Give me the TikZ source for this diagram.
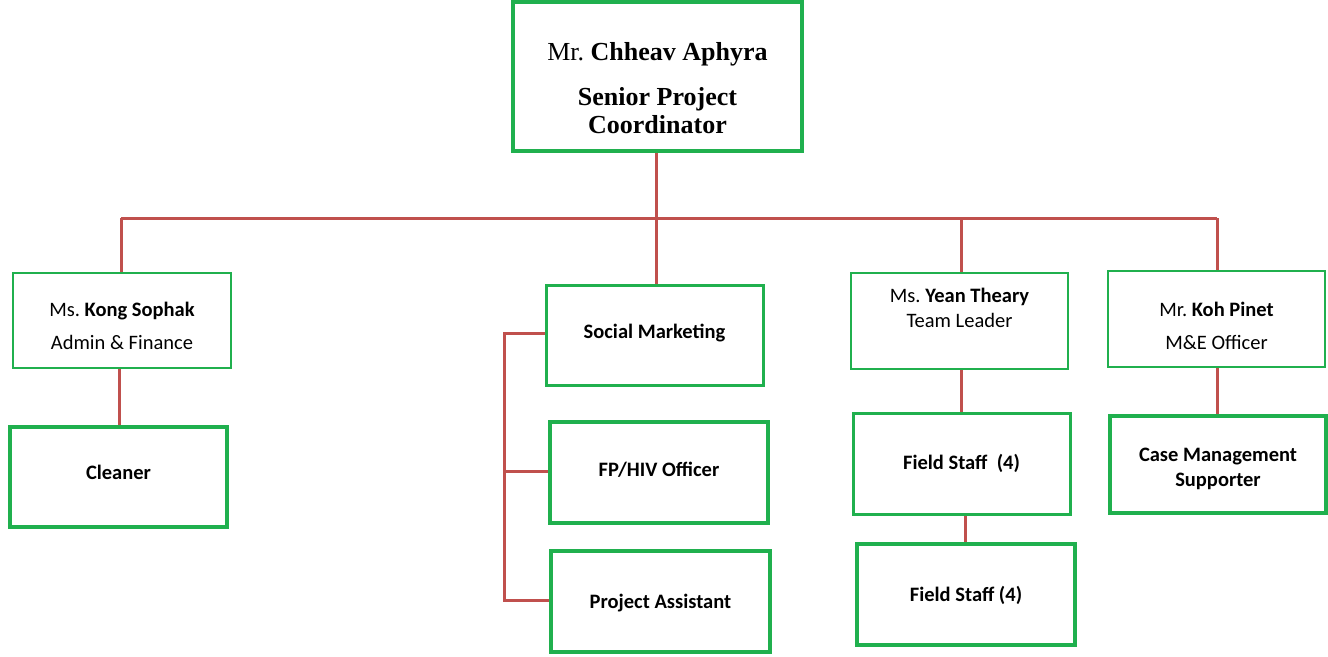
\documentclass[tikz,border=0pt]{standalone}
\usepackage{fontspec}
\setmainfont{Carlito}
\newfontfamily\timesf{Liberation Serif}
\definecolor{boxgreen}{RGB}{32,176,78}
\definecolor{linered}{RGB}{192,80,77}
\frenchspacing
\begin{document}
\begin{tikzpicture}[x=1pt,y=-1pt,
  txt/.style={inner sep=0pt,align=center,font=\fontsize{20.5}{25}\selectfont},
  thinbox/.style={draw=boxgreen,line width=2.8pt,fill=white,inner sep=0pt},
  thickbox/.style={thinbox,line width=4.8pt},
  conn/.style={draw=linered,line width=3pt}]
\useasboundingbox (0,0) rectangle (1328,656);
% boxes
\node[thickbox,minimum width=289,minimum height=149] (top) at (657.5,76.5) {};
\node[thinbox,minimum width=218,minimum height=95] (kong) at (122,320.5) {};
\node[thickbox,minimum width=217,minimum height=100] (cleaner) at (118.5,477) {};
\node[thinbox,line width=3pt,minimum width=217,minimum height=100] (social) at (654.5,335) {};
\node[thickbox,minimum width=218,minimum height=101] (fphiv) at (659,472.5) {};
\node[thickbox,minimum width=219,minimum height=101] (pa) at (660.5,601.5) {};
\node[thinbox,minimum width=217,minimum height=96] (yean) at (959.5,321) {};
\node[thinbox,line width=3pt,minimum width=217,minimum height=101] (fs1) at (961.5,463.5) {};
\node[thickbox,minimum width=218,minimum height=101] (fs2) at (966,594.5) {};
\node[thinbox,minimum width=217,minimum height=96] (koh) at (1216.5,319) {};
\node[thickbox,line width=4pt,minimum width=216,minimum height=97] (case) at (1218,464) {};
% texts
\node[txt,font=\timesf\fontsize{26}{28}\selectfont] (toptext) at (657.5,88)
  {Mr. \textbf{Chheav Aphyra}\\[17pt]\textbf{Senior Project}\\\textbf{Coordinator}};
\node[txt] (kongtext) at (122,326) {Ms. \textbf{Kong Sophak}\\[8pt]Admin \& Finance};
\node[txt] (cleanertext) at (118.5,472) {\textbf{Cleaner}};
\node[txt] (socialtext) at (654.5,333) {\textbf{Social Marketing}};
\node[txt] (fphivtext) at (659,470) {\textbf{FP/HIV Officer}};
\node[txt] (patext) at (660.5,603) {\textbf{Project Assistant}};
\node[txt,anchor=north] (yeantext) at (959.5,288) {Ms. \textbf{Yean Theary}\\Team Leader};
\node[txt] (fs1text) at (961.5,463) {\textbf{Field Staff\ \ (4)}};
\node[txt] (fs2text) at (966,595) {\textbf{Field Staff (4)}};
\node[txt] (kohtext) at (1216.5,326) {Mr. \textbf{Koh Pinet}\\[8pt]M\&E Officer};
\node[txt] (casetext) at (1218,469) {\textbf{Case Management}\\\textbf{Supporter}};
% coordinates
\coordinate (bus) at (656,218);
\coordinate (busL) at (121,218);
\coordinate (busR) at (1217,218);
\coordinate (busY) at (961,218);
\coordinate (xK) at (119,0);
\coordinate (xY) at (961,0);
\coordinate (xF) at (965,0);
\coordinate (xM) at (1217,0);
\coordinate (b1) at (504,333);
\coordinate (b2) at (504,471);
\coordinate (b3) at (504,600);
% connectors
\draw[conn] (top.south -| bus) -- (bus);
\draw[conn] (busL) -- (busR);
\draw[conn] (busL) -- (kong.north -| busL);
\draw[conn] (bus) -- (social.north -| bus);
\draw[conn] (busY) -- (yean.north -| busY);
\draw[conn] (busR) -- (koh.north -| busR);
\draw[conn] (kong.south -| xK) -- (cleaner.north -| xK);
\draw[conn] (social.west |- b1) -- (b1) -- (b3) -- (pa.west |- b3);
\draw[conn] (b2) -- (fphiv.west |- b2);
\draw[conn] (yean.south -| xY) -- (fs1.north -| xY);
\draw[conn] (fs1.south -| xF) -- (fs2.north -| xF);
\draw[conn] (koh.south -| xM) -- (case.north -| xM);
\end{tikzpicture}
\end{document}
